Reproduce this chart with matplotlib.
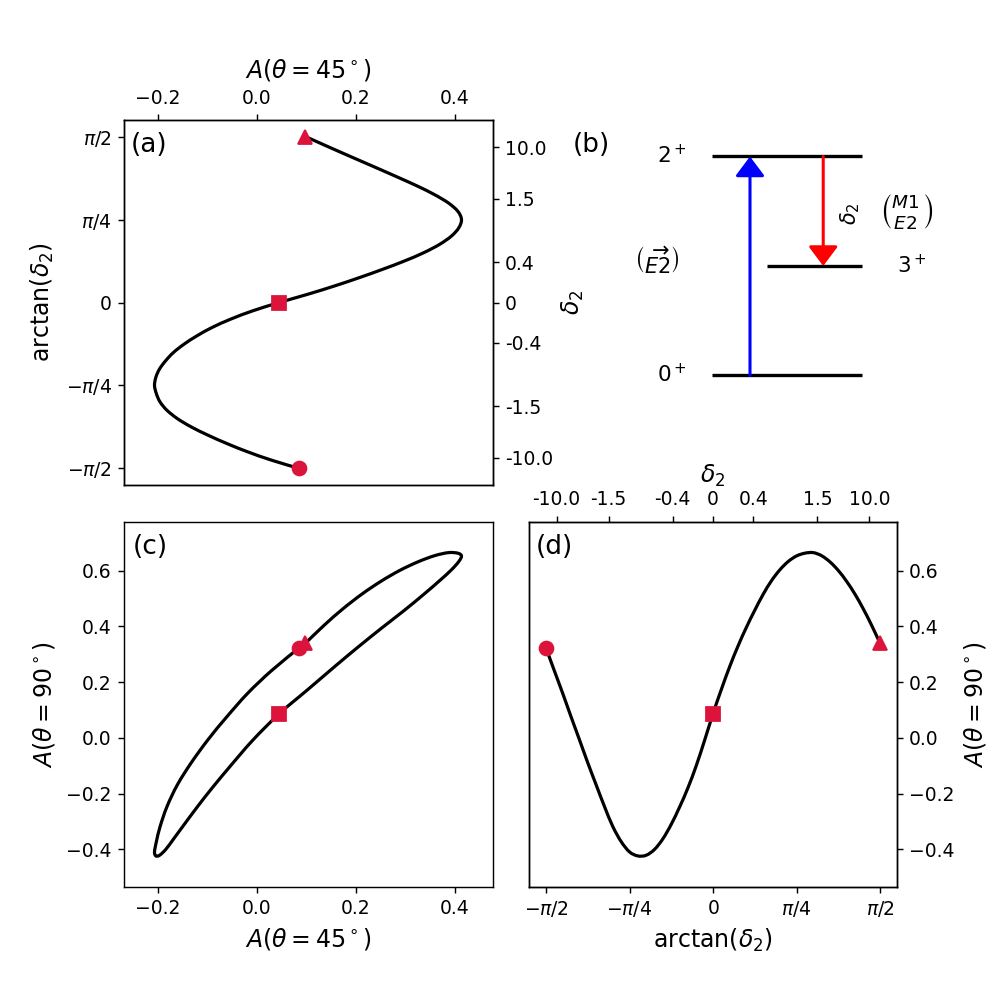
import numpy as np
import matplotlib
matplotlib.use("Agg")
import matplotlib.pyplot as plt
from matplotlib.path import Path
from matplotlib.patches import PathPatch

# ---------------- data ----------------
arctan_delta_deg = [-90.0, -85.5, -81.0, -76.5, -72.0, -67.5, -63.0, -58.5, -54.0, -49.5,
                    -45.0, -40.5, -36.0, -31.5, -27.0, -22.5, -18.0, -13.5, -9.0, -4.5,
                    0.0, 4.5, 9.0, 13.5, 18.0, 22.5, 27.0, 31.5, 36.0, 40.5,
                    45.0, 49.5, 54.0, 58.5, 63.0, 67.5, 72.0, 76.5, 81.0, 85.5, 90.0]
A45 = [0.085, 0.029, -0.019, -0.061, -0.099, -0.133, -0.161, -0.182, -0.196, -0.2035,
       -0.2073, -0.2045, -0.197, -0.1845, -0.1685, -0.147, -0.121, -0.0905, -0.053, -0.0085,
       0.045, 0.103, 0.157, 0.207, 0.254, 0.298, 0.337, 0.369, 0.393, 0.408,
       0.4135, 0.406, 0.387, 0.359, 0.3255, 0.2885, 0.2505, 0.212, 0.1735, 0.1355, 0.098]
A90 = [0.323, 0.241, 0.160, 0.076, -0.006, -0.089, -0.168, -0.246, -0.318, -0.372,
       -0.409, -0.4235, -0.421, -0.400, -0.362, -0.310, -0.248, -0.179, -0.099, -0.008,
       0.087, 0.174, 0.256, 0.330, 0.397, 0.458, 0.515, 0.564, 0.603, 0.633,
       0.653, 0.663, 0.665, 0.654, 0.632, 0.601, 0.562, 0.516, 0.463, 0.404, 0.340]

delta_tick_values = [-10.0, -1.5, -0.4, 0.0, 0.4, 1.5, 10.0]
delta_tick_labels = ['-10.0', '-1.5', '-0.4', '0', '0.4', '1.5', '10.0']
pi_tick_values = [-np.pi / 2, -np.pi / 4, 0.0, np.pi / 4, np.pi / 2]
pi_tick_labels = [r'$-\pi/2$', r'$-\pi/4$', r'$0$', r'$\pi/4$', r'$\pi/2$']
A45_ticks = [-0.2, 0.0, 0.2, 0.4]
A90_ticks = [-0.4, -0.2, 0.0, 0.2, 0.4, 0.6]

level_labels = [r'$0^+$', r'$3^+$', r'$2^+$']
level_energy = [0.0, 1.0, 2.0]

t = np.deg2rad(arctan_delta_deg)
A45 = np.array(A45)
A90 = np.array(A90)

# ---------------- style ----------------
DPI = 128
S = 100.0 / DPI          # convert "points at 100 dpi" to points at DPI
TICK_FS = 13.5 * S
LABEL_FS = 17 * S
PANEL_FS = 19 * S
LW = 2.3 * S
MCOL = 'crimson'
MS = 10 * S
plt.rcParams['font.family'] = ['DejaVu Sans']
plt.rcParams['xtick.labelsize'] = TICK_FS
plt.rcParams['ytick.labelsize'] = TICK_FS
plt.rcParams['axes.labelsize'] = LABEL_FS

W = H = 997
fig = plt.figure(figsize=(W / DPI, H / DPI), dpi=DPI)


def px_axes(l, r, top, bot):
    return fig.add_axes([l / W, 1 - bot / H, (r - l) / W, (bot - top) / H])


xlim45 = (-0.2684, 0.4762)
ylim90 = (-0.535, 0.776)
tlim = (-0.55 * np.pi, 0.55 * np.pi)


def smooth_curve(ax, x, y):
    """Draw a smooth (Catmull-Rom / cubic Bezier) line through the data points."""
    p = np.column_stack([x, y])
    n = len(p)
    verts = [p[0]]
    codes = [Path.MOVETO]
    for i in range(n - 1):
        p0 = p[i - 1] if i > 0 else p[i]
        p1 = p[i]
        p2 = p[i + 1]
        p3 = p[i + 2] if i + 2 < n else p[i + 1]
        c1 = p1 + (p2 - p0) / 6.0
        c2 = p2 - (p3 - p1) / 6.0
        verts += [c1, c2, p2]
        codes += [Path.CURVE4] * 3
    ax.add_patch(PathPatch(Path(verts, codes), fill=False, edgecolor='k', lw=LW,
                           capstyle='round', joinstyle='round'))


def markers(ax, x, y):
    ax.plot(x[0], y[0], 'o', color=MCOL, ms=MS, zorder=5)
    ax.plot(x[20], y[20], 's', color=MCOL, ms=MS, zorder=5)
    ax.plot(x[-1], y[-1], '^', color=MCOL, ms=MS, zorder=5)


# ---- (a) ----
axA = px_axes(124.3, 492.5, 120, 485)
smooth_curve(axA, A45, t)
markers(axA, A45, t)
axA.set_xlim(xlim45)
axA.set_ylim(tlim)
axA.set_xticks(A45_ticks)
axA.xaxis.tick_top()
axA.xaxis.set_label_position('top')
axA.set_xlabel(r'$A(\theta=45^\circ)$', labelpad=6)
axA.set_yticks(pi_tick_values, pi_tick_labels)
axA.set_ylabel(r'arctan($\delta_2$)', labelpad=5.5)
axA.text(0.017, 0.932, '(a)', transform=axA.transAxes, fontsize=PANEL_FS,
         ha='left', va='center')
axA2 = axA.twinx()
axA2.set_ylim(tlim)
axA2.set_yticks(np.arctan(delta_tick_values), delta_tick_labels)
axA2.set_ylabel(r'$\delta_2$')

# ---- (c) ----
axC = px_axes(124.3, 492.5, 521.7, 887)
smooth_curve(axC, A45, A90)
markers(axC, A45, A90)
axC.set_xlim(xlim45)
axC.set_ylim(ylim90)
axC.set_xticks(A45_ticks)
axC.set_yticks(A90_ticks)
axC.set_xlabel(r'$A(\theta=45^\circ)$')
axC.set_ylabel(r'$A(\theta=90^\circ)$', labelpad=5.5)
axC.text(0.022, 0.932, '(c)', transform=axC.transAxes, fontsize=PANEL_FS,
         ha='left', va='center')

# ---- (d) ----
axD = px_axes(529.3, 896.7, 521.7, 887)
smooth_curve(axD, t, A90)
markers(axD, t, A90)
axD.set_xlim(tlim)
axD.set_ylim(ylim90)
axD.set_xticks(pi_tick_values, pi_tick_labels)
axD.set_yticks(A90_ticks)
axD.yaxis.tick_right()
axD.yaxis.set_label_position('right')
axD.set_xlabel(r'arctan($\delta_2$)')
axD.set_ylabel(r'$A(\theta=90^\circ)$')
axD.text(0.017, 0.932, '(d)', transform=axD.transAxes, fontsize=PANEL_FS,
         ha='left', va='center')
axD2 = axD.twiny()
axD2.set_xlim(tlim)
axD2.set_xticks(np.arctan(delta_tick_values), delta_tick_labels)
axD2.set_xlabel(r'$\delta_2$')

# ---- (b) level scheme ----
axB = px_axes(529.3, 896.7, 120, 485)
axB.set_axis_off()
axB.set_xlim(0, 1)
axB.set_ylim(-1.0, 2.3333)
LEV_FS = 15.5 * S
full_x = (0.4965, 0.9048)
short_x = (0.646, 0.9048)
for lab, e in zip(level_labels, level_energy):
    xs = short_x if lab == r'$3^+$' else full_x
    axB.plot(xs, [e, e], color='k', lw=2.4 * S, solid_capstyle='butt')
    if lab == r'$3^+$':
        axB.annotate(lab, xy=(1.0005, e), xytext=(0, -7), textcoords='offset pixels',
                     ha='left', va='baseline', fontsize=LEV_FS)
    else:
        axB.annotate(lab, xy=(0.4278, e), xytext=(0, -7), textcoords='offset pixels',
                     ha='right', va='baseline', fontsize=LEV_FS)

e0, e3, e2 = level_energy
astyle = '-|>,head_length=0.8,head_width=0.6'
axB.annotate('', xy=(0.6007, e2), xytext=(0.6007, e0),
             arrowprops=dict(arrowstyle=astyle, color='blue', lw=2.2 * S,
                             shrinkA=0, shrinkB=0, mutation_scale=15 * S))
axB.annotate('', xy=(0.800, e3), xytext=(0.800, e2),
             arrowprops=dict(arrowstyle=astyle, color='red', lw=2.2 * S,
                             shrinkA=0, shrinkB=0, mutation_scale=15 * S))
axB.text(0.3468, 0.6118, r'$\left(\overrightarrow{E2}\right)$', transform=axB.transAxes,
         ha='center', va='center', fontsize=15 * S)
axB.text(0.8744, 0.7444, r'$\delta_2$', transform=axB.transAxes, rotation=90,
         ha='center', va='center', fontsize=15 * S)
axB.text(1.0272, 0.7488, r'$\binom{M1}{E2}$', transform=axB.transAxes,
         ha='center', va='center', fontsize=19 * S)
axB.text(0.119, 0.9315, '(b)', transform=axB.transAxes, fontsize=PANEL_FS,
         ha='left', va='center')

fig.savefig('out.png', dpi=DPI)
